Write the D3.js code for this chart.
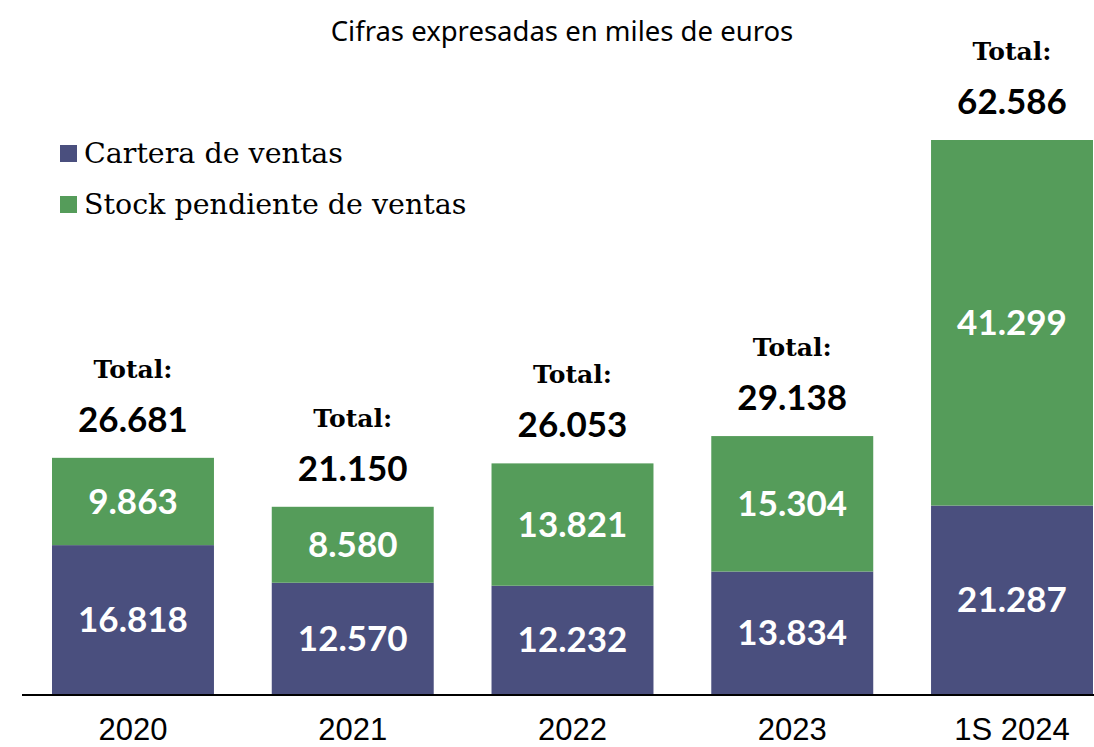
<!DOCTYPE html>
<meta charset="utf-8">
<style>
body { margin: 0; background: #fff; }
.axis--x path, .axis--x line { display: none; }
.axis--x text { font-family: "Liberation Sans", sans-serif; font-size: 31px; fill: #000; }
.val { font-family: Lato, "Open Sans", sans-serif; font-weight: 700; font-size: 35px; fill: #fff; }
.tot { font-family: Lato, "Open Sans", sans-serif; font-weight: 700; font-size: 35px; fill: #000; }
.totlab { font-family: "DejaVu Serif", serif; font-weight: 700; font-size: 25px; fill: #000; }
.legend text { font-family: "DejaVu Serif", serif; font-size: 28.5px; fill: #000; }
.sub { font-family: "Noto Sans", sans-serif; font-size: 27.5px; fill: #000; }
</style>
<svg width="1094" height="747"></svg>
<script src="https://d3js.org/d3.v7.min.js"></script>
<script>

var years = ["2020", "2021", "2022", "2023", "1S 2024"];
var cartera = [16818, 12570, 12232, 13834, 21287];
var stock = [9863, 8580, 13821, 15304, 41299];
var totals = [26681, 21150, 26053, 29138, 62586];
var seriesNames = ["Cartera de ventas", "Stock pendiente de ventas"];
var colors = ["#4a4f7e", "#559c5a"];

var svg = d3.select("svg"),
    baseline = 694;

var fmt = function(v) { return d3.format(",")(v).replace(/,/g, "."); };

var x = d3.scaleBand().domain(years).range([52, 1093]).paddingInner(0.263).paddingOuter(0);
var y = d3.scaleLinear().domain([0, d3.max(totals)]).range([baseline, 140]);

var data = years.map(function(d, i) {
  return {year: d, cartera: cartera[i], stock: stock[i], total: totals[i]};
});

var stacked = d3.stack().keys(["cartera", "stock"])(data);

var g = svg.append("g");

g.selectAll(".layer")
  .data(stacked)
  .enter().append("g")
    .attr("fill", function(d, i) { return colors[i]; })
  .selectAll("rect")
  .data(function(d) { return d; })
  .enter().append("rect")
    .attr("x", function(d) { return x(d.data.year); })
    .attr("y", function(d) { return y(d[1]); })
    .attr("width", x.bandwidth())
    .attr("height", function(d) { return y(d[0]) - y(d[1]); });

// segment values
stacked.forEach(function(layer) {
  g.selectAll(null)
    .data(layer)
    .enter().append("text")
      .attr("class", "val")
      .attr("text-anchor", "middle")
      .attr("dy", "0.36em")
      .attr("x", function(d) { return x(d.data.year) + x.bandwidth() / 2; })
      .attr("y", function(d) { return (y(d[0]) + y(d[1])) / 2; })
      .text(function(d) { return fmt(d[1] - d[0]); });
});

// totals
g.selectAll(".totlab")
  .data(data)
  .enter().append("text")
    .attr("class", "totlab")
    .attr("text-anchor", "middle")
    .attr("x", function(d) { return x(d.year) + x.bandwidth() / 2; })
    .attr("y", function(d) { return y(d.total) - 80; })
    .text("Total:");

g.selectAll(".tot")
  .data(data)
  .enter().append("text")
    .attr("class", "tot")
    .attr("text-anchor", "middle")
    .attr("x", function(d) { return x(d.year) + x.bandwidth() / 2; })
    .attr("y", function(d) { return y(d.total) - 26; })
    .text(function(d) { return fmt(d.total); });

// axis
svg.append("line")
    .attr("x1", 22).attr("x2", 1094)
    .attr("y1", baseline + 1).attr("y2", baseline + 1)
    .attr("stroke", "#000").attr("stroke-width", 2);

svg.append("g")
    .attr("class", "axis axis--x")
    .attr("transform", "translate(0," + baseline + ")")
    .call(d3.axisBottom(x).tickSize(0).tickPadding(24));

// legend
var legend = svg.append("g").attr("class", "legend");
seriesNames.forEach(function(name, i) {
  legend.append("rect")
      .attr("x", 60).attr("y", 145 + i * 51)
      .attr("width", 17).attr("height", 17)
      .attr("fill", colors[i]);
  legend.append("text")
      .attr("x", 84).attr("y", 163 + i * 51)
      .text(name);
});

svg.append("text")
    .attr("class", "sub")
    .attr("x", 562).attr("y", 41)
    .attr("text-anchor", "middle")
    .text("Cifras expresadas en miles de euros");

</script>
